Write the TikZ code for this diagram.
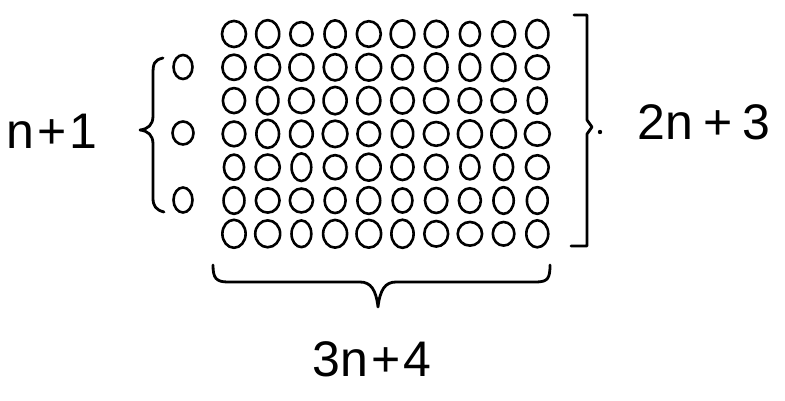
\documentclass[tikz,border=0pt]{standalone}
\usepackage{fontspec}
\setmainfont{Liberation Sans}
\usetikzlibrary{shapes.geometric}
\begin{document}
\begin{tikzpicture}[x=1pt,y=-1pt,
  bead/.style={ellipse,draw=black,line width=2.6pt,minimum width=22pt,minimum height=26pt,inner sep=0pt},
  brace/.style={draw=black,line width=2.8pt,line cap=round,line join=round},
  lbl/.style={anchor=base,font=\fontsize{50}{50}\selectfont,inner sep=0pt}]
\useasboundingbox (0,0) rectangle (785,401);
\fill[white] (0,0) rectangle (785,401);
\pgfmathsetseed{11}
% main grid 10 x 7
\foreach \i in {0,...,9}{
  \foreach \j in {0,...,6}{
    \pgfmathsetmacro{\bw}{22+3*rand}
    \pgfmathsetmacro{\bh}{26+2.5*rand}
    \node[bead,minimum width=\bw pt,minimum height=\bh pt] (c-\i-\j) at ({234+33.7*\i},{34+33.3*\j}) {};
  }
}
% left column
\node[bead,minimum width=19pt,minimum height=24pt] (l-0) at (183,67) {};
\node[bead,minimum width=21pt,minimum height=23pt] (l-1) at (183,133) {};
\node[bead,minimum width=19pt,minimum height=25pt] (l-2) at (183,200) {};
% left brace
\draw[brace] (163,58) .. controls (154,60) and (153,64) .. (153,74)
  -- (153,116) .. controls (153,125) and (148,129) .. (140,130)
  .. controls (148,131) and (153,135) .. (153,144)
  -- (153,198) .. controls (153,206) and (156,210) .. (164,212);
% right bracket
\draw[brace] (574,15) -- (587,15) -- (587,120) -- (592,127) -- (587,134) -- (587,246) -- (571,246);
\fill (600,132) circle (2.2pt);
% bottom brace
\draw[brace] (213,265) .. controls (213,278) and (216,282) .. (228,282)
  -- (360,282) .. controls (371,282) and (376,290) .. (378,307)
  .. controls (380,290) and (385,282) .. (396,282)
  -- (536,282) .. controls (548,282) and (550,278) .. (550,265);
% labels
\node[lbl] (t1) at (52,149) {n{\kern3pt}+{\kern3pt}1};
\node[lbl] (t2) at (704,140) {2n{\kern10pt}+{\kern10pt}3};
\node[lbl] (t3) at (372,376) {3n{\kern3pt}+{\kern3pt}4};
\end{tikzpicture}
\end{document}
